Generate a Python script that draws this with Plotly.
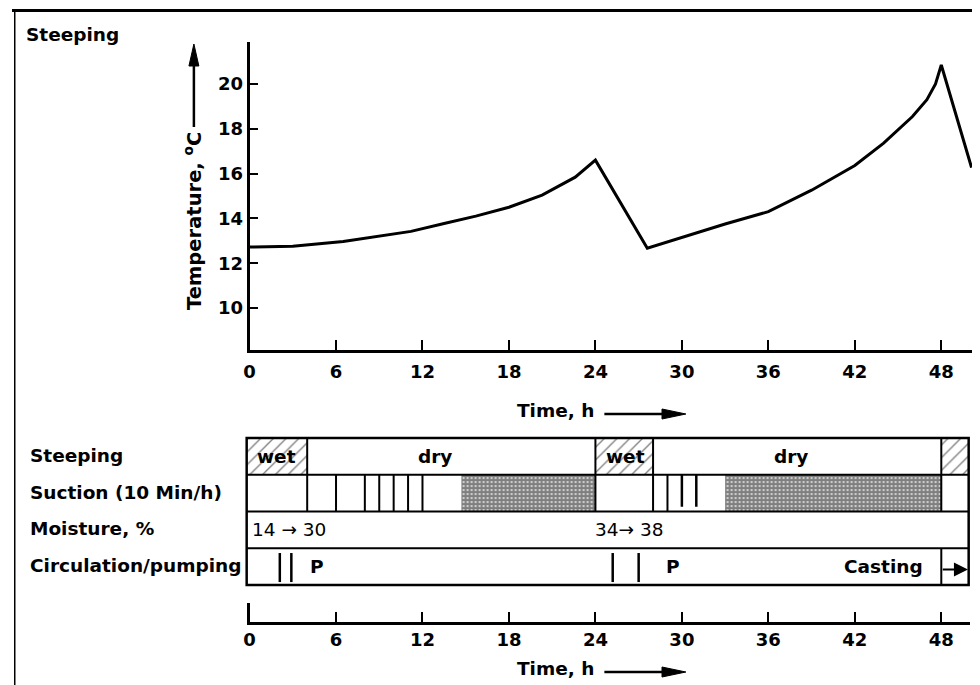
import plotly.graph_objects as go

W, H = 980, 685
OFF = 8  # browser body margin


def px(x):
    return (x - OFF) / W


def py(y):
    return 1 - (y - OFF) / H


# ---------------- data ----------------
time_h = [0, 3, 6.5, 9, 11.2, 13.5, 15.7, 18, 20.3, 22.6, 24,
          27.6, 30, 33, 36, 39, 42, 44, 46, 47, 47.6, 48, 50.1]
temp_c = [12.72, 12.76, 12.97, 13.2, 13.42, 13.77, 14.1, 14.5, 15.04, 15.84, 16.6,
          12.67, 13.16, 13.75, 14.3, 15.26, 16.36, 17.36, 18.55, 19.3, 20.0, 20.85, 16.27]

x_ticks = [0, 6, 12, 18, 24, 30, 36, 42, 48]
y_ticks = [10, 12, 14, 16, 18, 20]

row_labels = ["Steeping", "Suction (10 Min/h)", "Moisture, %", "Circulation/pumping"]
row_index = [3, 2, 1, 0]

table_start = -0.2
table_end = 49.9

wet_start = [-0.2, 24, 48]
wet_end = [4, 28, 49.9]
steep_dividers = [4, 24, 28, 48]
steep_texts = ["wet", "dry", "wet", "dry"]
steep_text_t = [1.9, 12.9, 26.1, 37.6]

suction_lines = [4, 6, 8, 9, 10, 11, 12, 24, 28, 29, 48]
suction_short_lines = [30, 31]
stipple_start = [14.7, 33]
stipple_end = [24, 48]

moisture_texts = ["14 → 30", "34→ 38"]
moisture_t = [0.05, 26.3]

circ_lines = [2.1, 2.9, 25.2, 27]
circ_p_t = [4.7, 29.4]
casting_t = 48

FONT = "DejaVu Sans"
LBL = dict(family=FONT, size=18.5, color="black", weight="bold")
TICK = dict(family=FONT, size=18, color="black", weight="bold")

fig = go.Figure()

# temperature curve
fig.add_trace(go.Scatter(x=time_h, y=temp_c, mode="lines",
                         line=dict(color="black", width=3),
                         xaxis="x", yaxis="y", hoverinfo="skip"))

# bottom axis dummy
fig.add_trace(go.Scatter(x=[0], y=[0], mode="markers", marker=dict(opacity=0),
                         xaxis="x2", yaxis="y2", hoverinfo="skip"))

# hatched (wet) boxes
fig.add_trace(go.Bar(orientation="h", y=[3.5] * len(wet_start),
                     x=[e - s for s, e in zip(wet_start, wet_end)], base=wet_start,
                     width=1, xaxis="x3", yaxis="y3", hoverinfo="skip",
                     marker=dict(color="white", line=dict(width=0),
                                 pattern=dict(shape="/", size=9, solidity=0.15,
                                              fgcolor="black", bgcolor="white"))))
# stippled suction areas
fig.add_trace(go.Bar(orientation="h", y=[2.5] * len(stipple_start),
                     x=[e - s for s, e in zip(stipple_start, stipple_end)], base=stipple_start,
                     width=1, xaxis="x3", yaxis="y3", hoverinfo="skip",
                     marker=dict(color="white", line=dict(width=0),
                                 pattern=dict(shape=".", size=4, solidity=0.8,
                                              fgcolor="black", bgcolor="white"))))

shapes = []
ann = []

# table grid
shapes.append(dict(type="rect", xref="x3", yref="y3", x0=table_start, x1=table_end,
                   y0=0, y1=4, line=dict(color="black", width=2.5), layer="above"))
for r in [1, 2, 3]:
    shapes.append(dict(type="line", xref="x3", yref="y3", x0=table_start, x1=table_end,
                       y0=r, y1=r, line=dict(color="black", width=2), layer="above"))
for t in steep_dividers:
    shapes.append(dict(type="line", xref="x3", yref="y3", x0=t, x1=t, y0=3, y1=4,
                       line=dict(color="black", width=2), layer="above"))
for t in suction_lines:
    shapes.append(dict(type="line", xref="x3", yref="y3", x0=t, x1=t, y0=2, y1=3,
                       line=dict(color="black", width=2), layer="above"))
for t in suction_short_lines:
    shapes.append(dict(type="line", xref="x3", yref="y3", x0=t, x1=t, y0=2.13, y1=3,
                       line=dict(color="black", width=2.5), layer="above"))
for t in circ_lines:
    shapes.append(dict(type="line", xref="x3", yref="y3", x0=t, x1=t, y0=0.08, y1=0.87,
                       line=dict(color="black", width=2.5), layer="above"))
shapes.append(dict(type="line", xref="x3", yref="y3", x0=casting_t, x1=casting_t, y0=0, y1=1,
                   line=dict(color="black", width=2), layer="above"))

# steeping row texts
for s, t in zip(steep_texts, steep_text_t):
    ann.append(dict(x=t, y=3.5, xref="x3", yref="y3", text=s, showarrow=False,
                    xanchor="center", yanchor="middle", font=LBL))
# moisture texts
ann.append(dict(x=moisture_t[0], y=1.5, xref="x3", yref="y3", text=moisture_texts[0],
                showarrow=False, xanchor="left", yanchor="middle",
                font=dict(LBL, weight="normal")))
ann.append(dict(x=moisture_t[1], y=1.5, xref="x3", yref="y3", text=moisture_texts[1],
                showarrow=False, xanchor="center", yanchor="middle",
                font=dict(LBL, weight="normal")))
# circulation texts
for t in circ_p_t:
    ann.append(dict(x=t, y=0.5, xref="x3", yref="y3", text="P", showarrow=False,
                    xanchor="center", yanchor="middle", font=LBL))
ann.append(dict(x=casting_t - 1.1, y=0.5, xref="x3", yref="y3", text="Casting",
                showarrow=False, xanchor="right", yanchor="middle", font=LBL))
ann.append(dict(x=table_end - 0.05, y=0.42, xref="x3", yref="y3", ax=casting_t, ay=0.42,
                axref="x3", ayref="y3", text="", showarrow=True, arrowhead=2,
                arrowsize=1.4, arrowwidth=2, arrowcolor="black"))

# row labels
for lab, r in zip(row_labels, row_index):
    ann.append(dict(x=px(22), y=py(585 - (r + 0.5) * 36.75 - 1), xref="paper", yref="paper",
                    text=lab, showarrow=False, xanchor="left", yanchor="middle", font=LBL))

# title
ann.append(dict(x=px(18), y=py(34), xref="paper", yref="paper", text="Steeping",
                showarrow=False, xanchor="left", yanchor="middle", font=LBL))

# y axis title with arrow
ann.append(dict(x=px(188), y=py(221), xref="paper", yref="paper",
                text="Temperature, <sup>o</sup>C", textangle=-90, showarrow=False,
                xanchor="center", yanchor="middle", font=dict(LBL, size=19.5)))
shapes.append(dict(type="line", xref="paper", yref="paper", x0=px(189), x1=px(189),
                   y0=py(127), y1=py(62), line=dict(color="black", width=2.5)))
shapes.append(dict(type="path", xref="paper", yref="paper",
                   path=f"M {px(184)},{py(66)} L {px(189)},{py(44)} L {px(194)},{py(66)} Z",
                   fillcolor="black", line=dict(color="black", width=1)))

# x axis titles with arrows
for ty in [410, 668]:
    ann.append(dict(x=px(553), y=py(ty), xref="paper", yref="paper", text="Time, h",
                    showarrow=False, xanchor="center", yanchor="middle", font=LBL))
    ay_ = ty + 4
    shapes.append(dict(type="line", xref="paper", yref="paper", x0=px(602), x1=px(665),
                       y0=py(ay_), y1=py(ay_), line=dict(color="black", width=2.5)))
    shapes.append(dict(type="path", xref="paper", yref="paper",
                       path=f"M {px(660)},{py(ay_ - 5)} L {px(684)},{py(ay_)} L {px(660)},{py(ay_ + 5)} Z",
                       fillcolor="black", line=dict(color="black", width=1)))

# page border
shapes.append(dict(type="line", xref="paper", yref="paper", x0=px(8.75), x1=px(8.75),
                   y0=py(9), y1=py(700), line=dict(color="black", width=1.5)))
shapes.append(dict(type="line", xref="paper", yref="paper", x0=px(6), x1=px(1000),
                   y0=py(10.5), y1=py(10.5), line=dict(color="black", width=3)))

SC = 14.5  # px per hour
axis_common = dict(showgrid=False, zeroline=False, showline=True, linecolor="black",
                   linewidth=3, ticks="inside", tickcolor="black", tickwidth=1.5,
                   tickfont=TICK)

fig.update_layout(
    width=W, height=H, autosize=False,
    margin=dict(l=0, r=0, t=0, b=0),
    paper_bgcolor="white", plot_bgcolor="white",
    showlegend=False, barmode="overlay",
    xaxis=dict(axis_common, domain=[px(245), px(973)], range=[0, (973 - 245) / SC],
               tickvals=x_ticks, ticklen=10, anchor="y", ticklabelstandoff=3),
    yaxis=dict(axis_common, domain=[py(350), py(42)], range=[8.125, 21.875],
               tickvals=y_ticks, ticklen=8, anchor="x"),
    xaxis2=dict(axis_common, domain=[px(245), px(970)], range=[0, (970 - 245) / SC],
                tickvals=x_ticks, ticklen=10, anchor="y2", linewidth=2.5),
    yaxis2=dict(domain=[py(622), py(603)], range=[0, 1], showline=True, linecolor="black",
                linewidth=3, showticklabels=False, ticks="", showgrid=False,
                zeroline=False, anchor="x2"),
    xaxis3=dict(domain=[px(235), px(975)], range=[-10 / SC, 730 / SC], visible=False,
                anchor="y3", fixedrange=True),
    yaxis3=dict(domain=[py(589), py(434)], range=[-4 / 36.75, 4 + 4 / 36.75], visible=False,
                anchor="x3", fixedrange=True),
    shapes=shapes, annotations=ann,
)

fig.write_html("out.html")
